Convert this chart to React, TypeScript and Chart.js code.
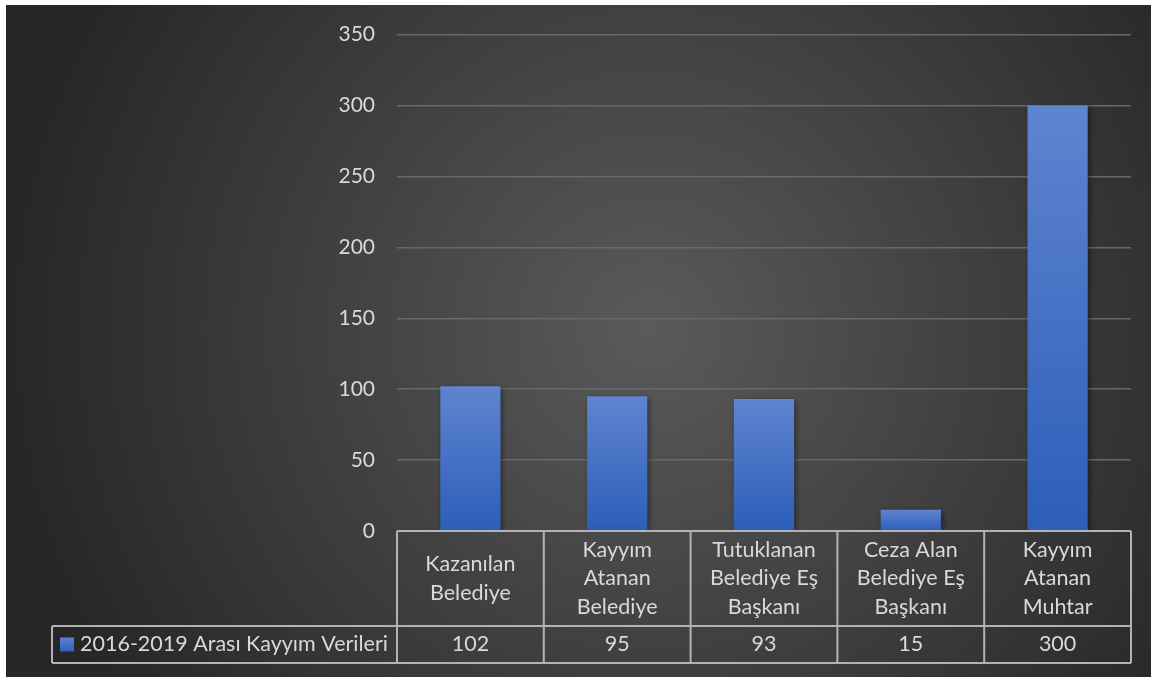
import React, { useEffect, useRef } from "react";
import { Chart, registerables } from "chart.js";

Chart.register(...registerables);

const categories: string[][] = [
  ["Kazanılan", "Belediye"],
  ["Kayyım", "Atanan", "Belediye"],
  ["Tutuklanan", "Belediye Eş", "Başkanı"],
  ["Ceza Alan", "Belediye Eş", "Başkanı"],
  ["Kayyım", "Atanan", "Muhtar"],
];
const seriesName = "2016-2019 Arası Kayyım Verileri";
const values: number[] = [102, 95, 93, 15, 300];
const yMin = 0;
const yMax = 350;
const yStep = 50;

const FONT = "Lato";
const TEXT = "#d9d9d9";
const LINE = "#b3b3b3";

const W = 1152;
const H = 677;

export default function App() {
  const ref = useRef<HTMLCanvasElement | null>(null);

  useEffect(() => {
    document.body.style.margin = "0";
    const canvas = ref.current;
    if (!canvas) return;

    const bgPlugin = {
      id: "bg",
      beforeDraw(chart: any) {
        const ctx = chart.ctx;
        ctx.save();
        ctx.fillStyle = "#ffffff";
        ctx.fillRect(0, 0, W, H);
        const g = ctx.createRadialGradient(650, 330, 0, 650, 330, 650);
        g.addColorStop(0, "#5a5a5a");
        g.addColorStop(1, "#262626");
        ctx.fillStyle = g;
        ctx.fillRect(6, 5, 1145, H - 5);
        ctx.restore();
      },
    };

    const shadowPlugin = {
      id: "barShadow",
      beforeDatasetDraw(chart: any) {
        const ctx = chart.ctx;
        ctx.save();
        ctx.shadowColor = "rgba(0,0,0,0.45)";
        ctx.shadowBlur = 6;
        ctx.shadowOffsetX = 2;
        ctx.shadowOffsetY = 2;
      },
      afterDatasetDraw(chart: any) {
        chart.ctx.restore();
      },
    };

    const tablePlugin = {
      id: "dataTable",
      afterDraw(chart: any) {
        const ctx = chart.ctx;
        const area = chart.chartArea;
        const n = categories.length;
        const cw = (area.right - area.left) / n;
        const top = area.bottom;
        const mid = top + 95;
        const bot = mid + 37;
        const legendLeft = 52;
        ctx.save();
        ctx.strokeStyle = LINE;
        ctx.lineWidth = 2;
        ctx.beginPath();
        ctx.moveTo(area.left, top);
        ctx.lineTo(area.right, top);
        ctx.moveTo(legendLeft, mid);
        ctx.lineTo(area.right, mid);
        ctx.moveTo(legendLeft, bot);
        ctx.lineTo(area.right, bot);
        for (let i = 0; i <= n; i++) {
          const x = area.left + i * cw;
          ctx.moveTo(x, top);
          ctx.lineTo(x, bot);
        }
        ctx.moveTo(legendLeft, mid);
        ctx.lineTo(legendLeft, bot);
        ctx.stroke();

        ctx.fillStyle = TEXT;
        ctx.font = `21.5px ${FONT}`;
        ctx.textAlign = "center";
        ctx.textBaseline = "middle";
        const lh = 28.5;
        categories.forEach((lines, i) => {
          const cx = area.left + (i + 0.5) * cw;
          const cy = (top + mid) / 2;
          const start = cy - ((lines.length - 1) * lh) / 2;
          lines.forEach((ln, j) => ctx.fillText(ln, cx, start + j * lh));
          ctx.fillText(String(values[i]), cx, (mid + bot) / 2);
        });

        // legend key
        const ky = (mid + bot) / 2;
        const kg = ctx.createLinearGradient(0, ky - 7, 0, ky + 7);
        kg.addColorStop(0, "#5b82d2");
        kg.addColorStop(1, "#2f62bd");
        ctx.fillStyle = kg;
        ctx.fillRect(60, ky - 7, 14, 14);
        ctx.fillStyle = TEXT;
        ctx.textAlign = "left";
        ctx.fillText(seriesName, 80, ky);
        ctx.restore();
      },
    };

    const chart = new Chart(canvas, {
      type: "bar",
      data: {
        labels: categories.map((c) => c.join(" ")),
        datasets: [
          {
            label: seriesName,
            data: values,
            backgroundColor: (context: any) => {
              const chart = context.chart;
              const ys = chart.scales && chart.scales.y;
              const v = context.raw;
              if (!ys || typeof v !== "number") return "#4472c4";
              const y0 = ys.getPixelForValue(v);
              const y1 = ys.getPixelForValue(0);
              if (!isFinite(y0) || !isFinite(y1) || y0 === y1) return "#4472c4";
              const g = chart.ctx.createLinearGradient(0, y0, 0, y1);
              g.addColorStop(0, "#5f84d0");
              g.addColorStop(1, "#2c5eb9");
              return g;
            },
            borderWidth: 0,
            categoryPercentage: 1,
            barPercentage: 0.41,
          },
        ],
      },
      options: {
        responsive: false,
        animation: false,
        devicePixelRatio: 1,
        layout: { padding: { top: 34, right: 21, bottom: 146, left: 0 } },
        plugins: {
          legend: { display: false },
          tooltip: { enabled: false },
          title: { display: false },
        },
        scales: {
          x: { display: false },
          y: {
            min: yMin,
            max: yMax,
            ticks: {
              stepSize: yStep,
              color: TEXT,
              font: { family: FONT, size: 21 },
              padding: 22,
            },
            grid: {
              color: "#686868",
              lineWidth: 1.5,
              drawTicks: false,
            },
            border: { display: false },
            afterFit: (s: any) => {
              s.width = 397;
            },
          },
        },
      },
      plugins: [bgPlugin, shadowPlugin, tablePlugin],
    });

    return () => chart.destroy();
  }, []);

  return (
    <div style={{ width: W, height: H }}>
      <canvas ref={ref} width={W} height={H} style={{ display: "block" }} />
    </div>
  );
}
